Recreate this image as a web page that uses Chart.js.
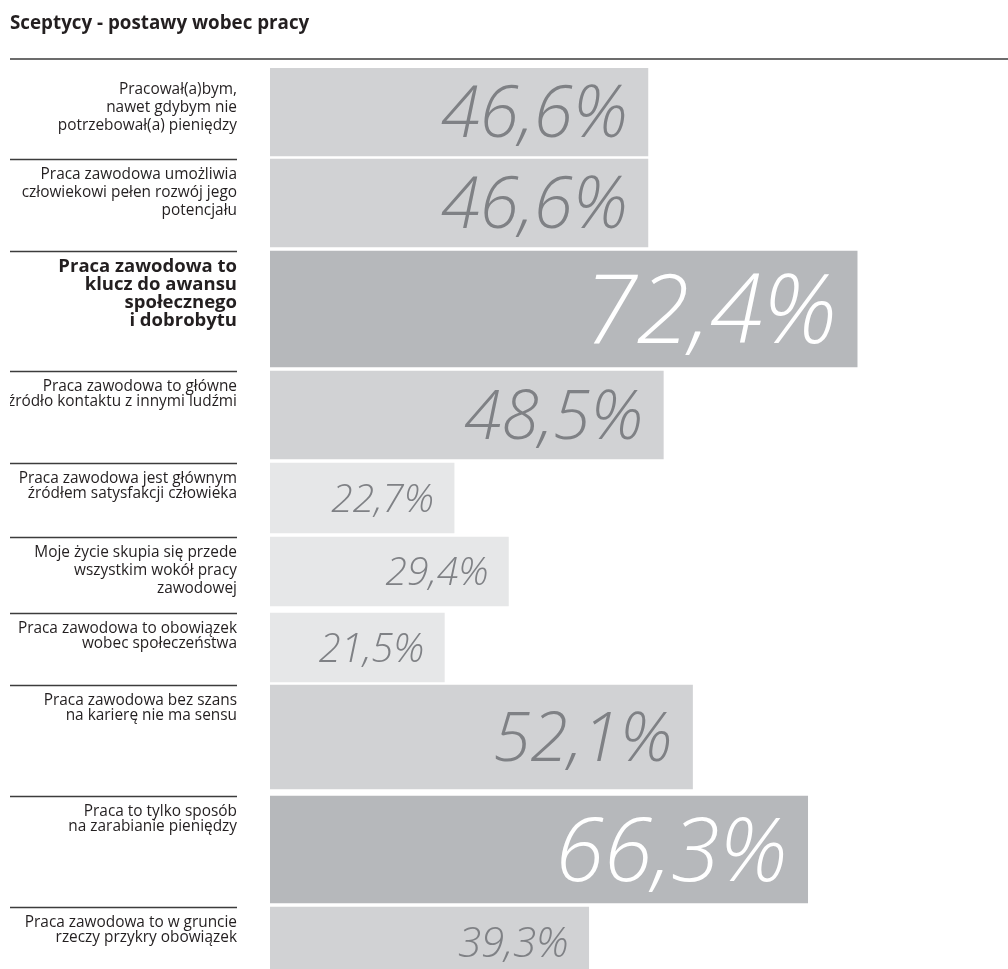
<!DOCTYPE html>
<html><head><meta charset="utf-8">
<script src="https://cdn.jsdelivr.net/npm/chart.js@4.4.1/dist/chart.umd.min.js"></script>
<style>html,body{margin:0;padding:0;background:#fff;overflow:hidden;width:1008px;height:969px}canvas{display:block}</style>
</head><body>
<canvas id="c" width="1008" height="977"></canvas>
<script>
// ---- data ----
const chartTitle = "Sceptycy - postawy wobec pracy";
const categories = [
  ["Pracował(a)bym,", "nawet gdybym nie", "potrzebował(a) pieniędzy"],
  ["Praca zawodowa umożliwia", "człowiekowi pełen rozwój jego", "potencjału"],
  ["Praca zawodowa to", "klucz do awansu", "społecznego", "i dobrobytu"],
  ["Praca zawodowa to główne", "źródło kontaktu z innymi ludźmi"],
  ["Praca zawodowa jest głównym", "źródłem satysfakcji człowieka"],
  ["Moje życie skupia się przede", "wszystkim wokół pracy", "zawodowej"],
  ["Praca zawodowa to obowiązek", "wobec społeczeństwa"],
  ["Praca zawodowa bez szans", "na karierę nie ma sensu"],
  ["Praca to tylko sposób", "na zarabianie pieniędzy"],
  ["Praca zawodowa to w gruncie", "rzeczy przykry obowiązek"]
];
const values = [46.6, 46.6, 72.4, 48.5, 22.7, 29.4, 21.5, 52.1, 66.3, 39.3];

// ---- styles / layout ----
const emphasis = [false, false, true, false, false, false, false, false, false, false];
const barTone = ['mid','mid','dark','mid','light','light','light','mid','dark','mid'];
const toneColor = {light: '#e6e7e8', mid: '#d1d2d4', dark: '#b6b8bb'};
const toneText = {light: '#7f8185', mid: '#7f8185', dark: '#ffffff'};
const barHeights = [88, 88, 116, 88, 70, 69, 69, 104, 107, 70];
const barGaps = [3, 4, 4, 4, 4, 7, 3, 7, 4];
const valueFontSizes = [71, 71, 96, 68, 39, 39, 40, 68, 88, 42];
const LABEL_FONT = "'Open Sans', 'DejaVu Sans', sans-serif";

const rowTops = [];
barHeights.forEach((h, i) => { rowTops.push(i === 0 ? 0 : rowTops[i-1] + barHeights[i-1] + barGaps[i-1]); });
const yMax = rowTops[rowTops.length-1] + barHeights[barHeights.length-1];
const labelFont = i => {
  if (emphasis[i]) return {family: LABEL_FONT, size: 18.5, weight: 'bold', lineHeight: 18/18.5};
  const lines = categories[i] || [];
  const lh = lines.length >= 3 ? 18 : 15;
  return {family: LABEL_FONT, size: 15.4, weight: 'normal', lineHeight: lh/15.4};
};
const tickValues = categories.map((lines, i) => {
  const f = labelFont(i);
  const lh = f.size * f.lineHeight;
  const firstLine = rowTops[i] + (i === 0 ? 22 : 16);
  return firstLine + (lines.length - 1) * lh / 2;
});

const datasets = values.map((v, i) => ({
  label: categories[i].join(' '),
  data: [{x: v, y: rowTops[i] + barHeights[i] / 2}],
  backgroundColor: toneColor[barTone[i]],
  borderWidth: 0,
  barThickness: barHeights[i],
  grouped: false
}));

const decor = {
  id: 'decor',
  afterDraw(chart) {
    const ctx = chart.ctx, y = chart.scales.y, ca = chart.chartArea;
    ctx.save();
    ctx.strokeStyle = '#3c3c3c';
    ctx.lineWidth = 1.4;
    ctx.beginPath();
    ctx.moveTo(10, ca.top - 9); ctx.lineTo(chart.width, ca.top - 9);
    for (let i = 1; i < rowTops.length; i++) {
      const py = Math.round(y.getPixelForValue(rowTops[i])) + 0.5;
      ctx.moveTo(10, py); ctx.lineTo(237, py);
    }
    ctx.stroke();
    ctx.restore();
  },
  afterDatasetsDraw(chart) {
    const ctx = chart.ctx;
    ctx.save();
    values.forEach((v, i) => {
      const el = chart.getDatasetMeta(i).data[0];
      if (!el) return;
      const size = valueFontSizes[i];
      ctx.font = `italic 300 ${size}px 'Open Sans', 'DejaVu Sans', sans-serif`;
      ctx.fillStyle = toneText[barTone[i]];
      ctx.textAlign = 'right';
      ctx.textBaseline = 'alphabetic';
      const txt = v.toFixed(1).replace('.', ',') + '%';
      ctx.fillText(txt, el.x - 20, el.y + size * 0.714 / 2);
    });
    ctx.restore();
  }
};

new Chart(document.getElementById('c'), {
  type: 'bar',
  data: {datasets},
  plugins: [decor],
  options: {
    indexAxis: 'y',
    responsive: false,
    animation: false,
    devicePixelRatio: 1,
    layout: {padding: {left: 10, right: 0, top: 0, bottom: 0}},
    plugins: {
      legend: {display: false},
      tooltip: {enabled: false},
      title: {
        display: true, text: chartTitle, align: 'start', color: '#231f20',
        font: {family: LABEL_FONT, size: 18.8, weight: 'bold', lineHeight: 1.2},
        padding: {top: 12, bottom: 33.44}
      }
    },
    scales: {
      x: {type: 'linear', min: 0, max: 91, display: false},
      y: {
        type: 'linear', reverse: true, min: 0, max: yMax, offset: false,
        position: 'left',
        grid: {display: false, drawTicks: false, offset: false},
        border: {display: false},
        afterFit: s => { s.width = 260; s.paddingTop = 0; s.paddingBottom = 0; },
        afterBuildTicks: s => { s.ticks = tickValues.map(v => ({value: v})); },
        ticks: {
          autoSkip: false,
          padding: 33,
          color: '#231f20',
          font: ctx => labelFont(ctx.index),
          callback: (v, i) => categories[i]
        }
      }
    }
  }
});
</script>
</body></html>
